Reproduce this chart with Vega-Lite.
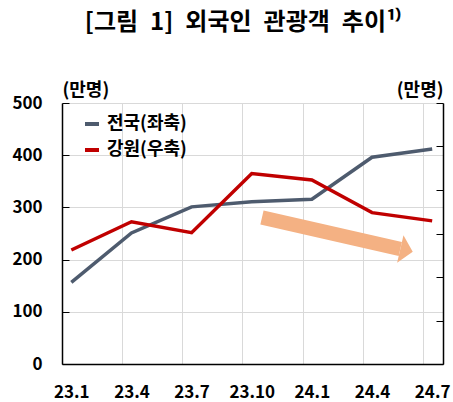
{
  "$schema": "https://vega.github.io/schema/vega-lite/v6.json",
  "width": 381,
  "height": 261,
  "autosize": "none",
  "padding": {"left": 62, "top": 103, "right": 10, "bottom": 38},
  "background": "white",
  "config": {
    "font": "Noto Sans CJK KR",
    "view": {"stroke": null},
    "axis": {"labelFont": "Noto Sans CJK KR", "titleFont": "Noto Sans CJK KR"}
  },
  "title": {
    "text": "[그림\u20021]\u2002외국인\u2002관광객\u2002추이¹⁾",
    "fontSize": 24,
    "fontWeight": "bold",
    "font": "Noto Sans CJK KR",
    "color": "#000000",
    "anchor": "middle",
    "dx": -9.5,
    "offset": 46
  },
  "data": {
    "values": [
      {"t": 0, "m": "23.1", "nat": 156.5, "gw": 26.2},
      {"t": 1, "m": "23.4", "nat": 251, "gw": 32.7},
      {"t": 2, "m": "23.7", "nat": 301, "gw": 30.2},
      {"t": 3, "m": "23.10", "nat": 311, "gw": 43.8},
      {"t": 4, "m": "24.1", "nat": 315.5, "gw": 42.3},
      {"t": 5, "m": "24.4", "nat": 396, "gw": 34.8},
      {"t": 6, "m": "24.7", "nat": 412, "gw": 32.9}
    ]
  },
  "layer": [
    {
      "layer": [
        {
          "data": {"values": [{"t": 3.17, "v": 280.7, "t2": 5.47, "v2": 220.3}]},
          "mark": {"type": "rule", "color": "#F4B183", "strokeWidth": 14.5, "strokeCap": "butt"},
          "encoding": {
            "x": {"field": "t", "type": "quantitative", "scale": {"domain": [-0.155, 6.18], "nice": false, "zero": false},
              "axis": {"values": [-0.155, 0.845, 1.845, 2.845, 3.845, 4.845, 5.845], "title": null, "grid": true, "gridColor": "#d9d9d9", "gridWidth": 1, "ticks": false, "domainColor": "#000000", "domainWidth": 1.5, "labelFlush": false, "labelOffset": 9.3, "labelPadding": 20, "labelFontSize": 17, "labelFontWeight": "bold", "labelColor": "#000000", "labelExpr": "(23 + floor((datum.value + 0.2) / 4)) + '.' + (1 + 3 * (round(datum.value + 0.155) % 4))"}},
            "x2": {"field": "t2"},
            "y": {"field": "v", "type": "quantitative", "scale": {"domain": [0, 500], "nice": false},
              "axis": {"values": [0, 100, 200, 300, 400, 500], "title": "(만명)", "titleAngle": 0, "titleX": 0, "titleY": -13, "titleAlign": "left", "titleBaseline": "middle", "titleFontSize": 18, "titleFontWeight": "bold", "titleColor": "#000000", "grid": true, "gridColor": "#d9d9d9", "gridWidth": 1, "tickSize": -7, "tickColor": "#000000", "tickWidth": 1, "domainColor": "#000000", "domainWidth": 1.5, "labelPadding": 27, "labelFontSize": 17, "labelFontWeight": "bold", "labelColor": "#000000"}},
            "y2": {"field": "v2"}
          }
        },
        {
          "data": {"values": [{"t": 5.47, "v": 220.3}]},
          "mark": {"type": "point", "shape": "M0,-1L0.9,0L0,1Z", "filled": true, "color": "#F4B183", "opacity": 1, "size": 807, "angle": 12.9, "strokeWidth": 0},
          "encoding": {
            "x": {"field": "t", "type": "quantitative"},
            "y": {"field": "v", "type": "quantitative"}
          }
        },
        {
          "mark": {"type": "line", "strokeWidth": 3.5},
          "encoding": {
            "x": {"field": "t", "type": "quantitative"},
            "y": {"field": "nat", "type": "quantitative"},
            "color": {"datum": "전국(좌축)", "type": "nominal",
              "scale": {"domain": ["전국(좌축)", "강원(우축)"], "range": ["#4E5B6E", "#C00000"]},
              "legend": {"title": null, "orient": "none", "legendX": 21, "legendY": 12, "symbolType": "stroke", "symbolSize": 196, "symbolStrokeWidth": 4, "labelFontSize": 18, "labelFontWeight": "bold", "labelColor": "#000000", "labelOffset": 6, "rowPadding": 8, "padding": 0}}
          }
        }
      ]
    },
    {
      "mark": {"type": "line", "strokeWidth": 3.5},
      "encoding": {
        "x": {"field": "t", "type": "quantitative"},
        "y": {"field": "gw", "type": "quantitative", "scale": {"domain": [0, 60], "nice": false},
          "axis": {"orient": "right", "values": [0, 10, 20, 30, 40, 50, 60], "labels": false, "grid": false, "tickSize": -7, "tickColor": "#000000", "tickWidth": 1, "domainColor": "#000000", "domainWidth": 1.5, "title": "(만명)", "titleAngle": 0, "titleX": 0, "titleY": -13, "titleAlign": "right", "titleBaseline": "middle", "titleFontSize": 18, "titleFontWeight": "bold", "titleColor": "#000000"}},
        "color": {"datum": "강원(우축)", "type": "nominal"}
      }
    }
  ],
  "resolve": {"scale": {"y": "independent"}, "axis": {"y": "independent"}}
}
